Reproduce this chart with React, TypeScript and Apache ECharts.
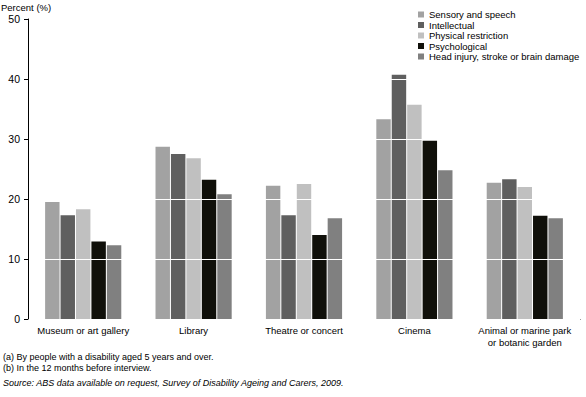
import React, { useEffect, useRef } from "react";
import * as echarts from "echarts";

const categories = [
  "Museum or art gallery",
  "Library",
  "Theatre or concert",
  "Cinema",
  "Animal or marine park\nor botanic garden",
];
const seriesNames = [
  "Sensory and speech",
  "Intellectual",
  "Physical restriction",
  "Psychological",
  "Head injury, stroke or brain damage",
];
const sensory = [19.5, 28.7, 22.2, 33.3, 22.7];
const intellectual = [17.3, 27.5, 17.3, 40.7, 23.3];
const physical = [18.3, 26.8, 22.5, 35.7, 22.0];
const psychological = [12.9, 23.2, 14.0, 29.7, 17.2];
const headInjury = [12.3, 20.8, 16.8, 24.8, 16.8];
const yTicks = [0, 10, 20, 30, 40, 50];

const colors = ["#a2a2a2", "#5f5f5f", "#c0c0c0", "#10100a", "#808080"];
const FONT = "'Liberation Sans', Arial, sans-serif";

export default function App() {
  const ref = useRef<HTMLDivElement>(null);
  useEffect(() => {
    if (!ref.current) return;
    const chart = echarts.init(ref.current, null, { renderer: "svg" });
    const data = [sensory, intellectual, physical, psychological, headInjury];
    chart.setOption({
      animation: false,
      backgroundColor: "#fff",
      textStyle: { fontFamily: FONT },
      grid: { left: 28, right: 6, top: 19, bottom: 78 },
      legend: {
        orient: "vertical",
        left: 418,
        top: 9.5,
        padding: 0,
        itemWidth: 6,
        itemHeight: 6,
        itemGap: 0.5,
        icon: "rect",
        z: 6,
        data: seriesNames,
        textStyle: { fontSize: 9.5, color: "#000", lineHeight: 9, fontFamily: FONT },
      },
      xAxis: {
        type: "category",
        data: categories,
        axisLine: { lineStyle: { color: "#000", width: 1 } },
        axisTick: { alignWithLabel: true, length: 4, lineStyle: { color: "#000" } },
        axisLabel: { color: "#000", fontSize: 9.5, margin: 5, lineHeight: 12, interval: 0, fontFamily: FONT },
      },
      yAxis: {
        type: "value",
        min: 0,
        max: 50,
        interval: 10,
        z: 3,
        axisLine: { show: true, lineStyle: { color: "#000", width: 1 } },
        axisTick: { show: true, length: 4, lineStyle: { color: "#000" } },
        axisLabel: {
          color: "#000",
          fontSize: 10.5,
          margin: 8,
          fontFamily: FONT,
          formatter: (v: number) => (yTicks.includes(v) ? String(v) : ""),
        },
        splitLine: { show: true, lineStyle: { color: "#fff", width: 1 } },
      },
      series: seriesNames.map((name, i) => ({
        name,
        type: "bar",
        data: data[i],
        itemStyle: { color: colors[i] },
        barGap: "7%",
        barCategoryGap: "31%",
      })),
      graphic: [
        { type: "text", left: 1, top: 2, style: { text: "Percent (%)", font: `9.5px ${FONT}`, fill: "#000" } },
        { type: "text", left: 3, top: 352, style: { text: "(a) By people with a disability aged 5 years and over.", font: `9px ${FONT}`, fill: "#000" } },
        { type: "text", left: 3, top: 363, style: { text: "(b) In the 12 months before interview.", font: `9px ${FONT}`, fill: "#000" } },
        { type: "text", left: 3, top: 378, style: { text: "Source: ABS data available on request, Survey of Disability Ageing and Carers, 2009.", font: `italic 9px ${FONT}`, fill: "#000" } },
      ],
    });
    return () => chart.dispose();
  }, []);
  return <div ref={ref} style={{ width: 586, height: 397, position: "absolute", left: 0, top: 0 }} />;
}
